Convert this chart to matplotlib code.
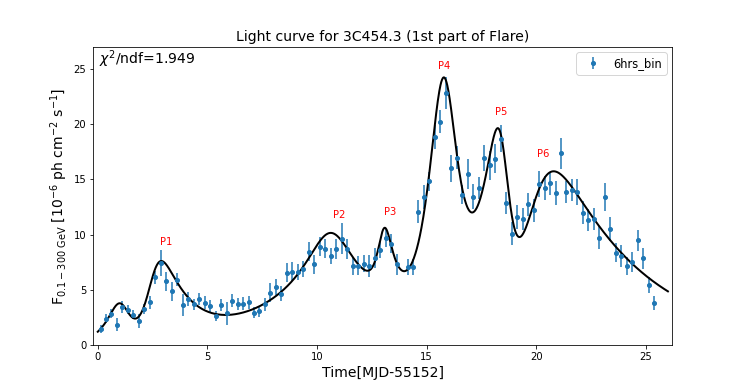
import numpy as np
import matplotlib
matplotlib.use("Agg")
import matplotlib.pyplot as plt

# ---- light-curve data (6 hr bins) ----
time_mjd = [0.125, 0.375, 0.625, 0.875, 1.125, 1.375, 1.625, 1.875, 2.125, 2.375,
            2.625, 2.875, 3.125, 3.375, 3.625, 3.875, 4.125, 4.375, 4.625, 4.875,
            5.125, 5.375, 5.625, 5.875, 6.125, 6.375, 6.625, 6.875, 7.125, 7.375,
            7.625, 7.875, 8.125, 8.375, 8.625, 8.875, 9.125, 9.375, 9.625, 9.875,
            10.125, 10.375, 10.625, 10.875, 11.125, 11.375, 11.625, 11.875, 12.125, 12.375,
            12.625, 12.875, 13.125, 13.375, 13.625, 14.125, 14.375, 14.625, 14.875, 15.125,
            15.375, 15.625, 15.875, 16.125, 16.375, 16.625, 16.875, 17.125, 17.375, 17.625,
            17.875, 18.125, 18.375, 18.625, 18.875, 19.125, 19.375, 19.625, 19.875, 20.125,
            20.375, 20.625, 20.875, 21.125, 21.375, 21.625, 21.875, 22.125, 22.375, 22.625,
            22.875, 23.125, 23.375, 23.625, 23.875, 24.125, 24.375, 24.625, 24.875, 25.125,
            25.375]
flux = [1.46, 2.42, 2.87, 1.85, 3.48, 3.20, 2.75, 2.21, 3.27, 3.87,
        6.13, 7.45, 5.77, 4.88, 5.93, 3.63, 4.18, 3.72, 4.17, 3.84,
        3.54, 2.66, 3.65, 2.88, 4.02, 3.72, 3.75, 3.87, 2.96, 3.07,
        3.72, 4.77, 5.27, 4.68, 6.58, 6.64, 6.64, 6.88, 8.47, 7.33,
        8.92, 8.74, 8.08, 8.69, 9.65, 8.69, 7.15, 7.18, 7.39, 7.18,
        7.93, 8.62, 9.70, 9.20, 7.33, 7.09, 7.09, 12.09, 13.41, 14.83,
        18.83, 20.22, 22.84, 16.00, 16.97, 13.60, 15.52, 13.44, 14.20, 16.91,
        16.28, 16.87, 18.68, 12.85, 10.10, 11.62, 11.40, 12.75, 12.21, 14.56,
        14.20, 14.65, 13.78, 17.36, 13.87, 14.05, 13.87, 12.00, 11.31, 11.45,
        9.74, 13.41, 10.52, 8.38, 8.08, 7.18, 7.57, 9.50, 7.88, 5.44,
        3.84]
flux_err = [0.35, 0.40, 0.40, 0.60, 0.55, 0.40, 0.40, 0.60, 0.45, 0.60,
            0.55, 1.15, 0.85, 0.85, 0.60, 1.00, 0.65, 0.50, 0.55, 0.60,
            0.55, 0.45, 0.55, 1.00, 0.60, 0.55, 0.60, 0.60, 0.50, 0.50,
            0.60, 0.85, 0.70, 0.70, 0.90, 0.85, 0.70, 0.75, 0.85, 0.85,
            0.85, 0.85, 0.75, 0.90, 1.40, 0.90, 0.80, 0.85, 0.80, 1.00,
            0.90, 0.70, 0.85, 0.85, 0.95, 0.70, 0.75, 1.00, 1.05, 0.85,
            1.10, 1.05, 1.45, 1.20, 1.05, 0.85, 1.35, 1.15, 1.00, 1.15,
            1.30, 1.30, 1.25, 1.00, 1.00, 1.10, 1.00, 1.05, 1.05, 1.15,
            1.10, 1.05, 1.10, 1.40, 1.00, 1.00, 1.20, 1.00, 1.00, 1.00,
            1.00, 1.25, 1.05, 0.85, 1.00, 0.80, 0.90, 0.95, 0.95, 0.75,
            0.65]

# ---- fitted flare model (sum of exponential flare profiles) ----
baseline = 0.0
flare_t0 = [1.0682, 2.5396, 10.6278, 13.0207, 15.7983, 18.4861, 19.8107, 10.7145]
flare_amp = [3.2830, 5.7677, 4.5978, 5.2741, 20.4700, 14.2486, 11.5230, 5.5298]
flare_rise = [0.5671, 0.3329, 0.8947, 0.2348, 0.6073, 0.9848, 0.6400, 2.7736]
flare_decay = [0.3649, 1.2658, 0.8576, 0.4033, 0.5352, 0.2983, 3.9586, 2.8420]
fit_range = [0.0, 26.0]

peak_names = ["P1", "P2", "P3", "P4", "P5", "P6"]
peak_label_x = [3.11, 11.02, 13.35, 15.81, 18.40, 20.32]
peak_label_y = [9.35, 11.79, 12.09, 25.25, 21.09, 17.33]

chi2_text = r'$\chi^2$/ndf=1.949'


def flare_model(t):
    y = np.full_like(t, baseline, dtype=float)
    for t0, A, Tr, Td in zip(flare_t0, flare_amp, flare_rise, flare_decay):
        y = y + 2 * A / (np.exp((t0 - t) / Tr) + np.exp((t - t0) / Td))
    return y


fig = plt.figure(figsize=(747 / 72, 388 / 72), dpi=72)
ax = fig.add_subplot(111)
ax.errorbar(time_mjd, flux, yerr=flux_err, fmt='o', ms=4, elinewidth=1.5,
            color='#1f77b4', label='6hrs_bin')
tt = np.linspace(fit_range[0], fit_range[1], 1500)
ax.plot(tt, flare_model(tt), color='black', lw=2)
for name, x, y in zip(peak_names, peak_label_x, peak_label_y):
    ax.text(x, y, name, color='red', fontsize=10, ha='center', va='center')
ax.text(0.05, 25.9, chi2_text, fontsize=14, va='center')
ax.set_xlim(-0.2, 26.2)
ax.set_ylim(0, 27)
ax.set_xticks([0, 5, 10, 15, 20, 25])
ax.set_yticks([0, 5, 10, 15, 20, 25])
ax.tick_params(labelsize=10)
ax.set_title('Light curve for 3C454.3 (1st part of Flare)', fontsize=14)
ax.set_xlabel('Time[MJD-55152]', fontsize=14)
ax.set_ylabel(r'F$_{0.1-300\ \mathrm{GeV}}$ [10$^{-6}$ ph cm$^{-2}$ s$^{-1}$]', fontsize=14)
ax.legend(loc='upper right', fontsize=11.5)
fig.savefig('out.png', dpi=72)
